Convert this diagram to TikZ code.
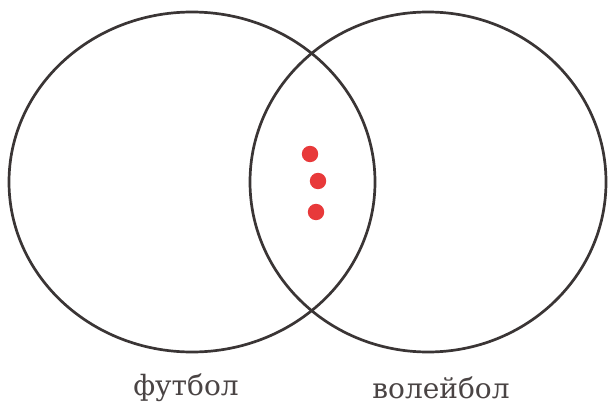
\documentclass[tikz,border=0pt]{standalone}
\usepackage{fontspec}
\setmainfont{DejaVu Serif}
\usepackage{xcolor}
\usepackage{tikz}
\usetikzlibrary{positioning}
\definecolor{vnink}{HTML}{3A3535}
\definecolor{vnred}{HTML}{E8393A}
\definecolor{vntext}{HTML}{4A4444}

\begin{document}
\begin{tikzpicture}[x=0.5pt,y=-0.5pt,
  setRing/.style={draw=vnink,line width=1.35pt},
  member/.style={circle,fill=vnred,inner sep=0pt,minimum size=8.2pt},
  setLabel/.style={text=vntext,font=\fontsize{14}{16}\selectfont,inner sep=0pt}
]
\useasboundingbox (0,0) rectangle (608,406);
\draw[setRing] (192,182) ellipse[x radius=183,y radius=170];
\draw[setRing] (428,182) ellipse[x radius=178,y radius=170];

\node[member] (m1) at (310,154) {};
\node[member] (m2) at (318,181) {};
\node[member] (m3) at (316,212) {};

\node[setLabel] (foot) at (186,388) {футбол};
\node[setLabel] (volley) at (441,388) {волейбол};
\end{tikzpicture}
\end{document}
